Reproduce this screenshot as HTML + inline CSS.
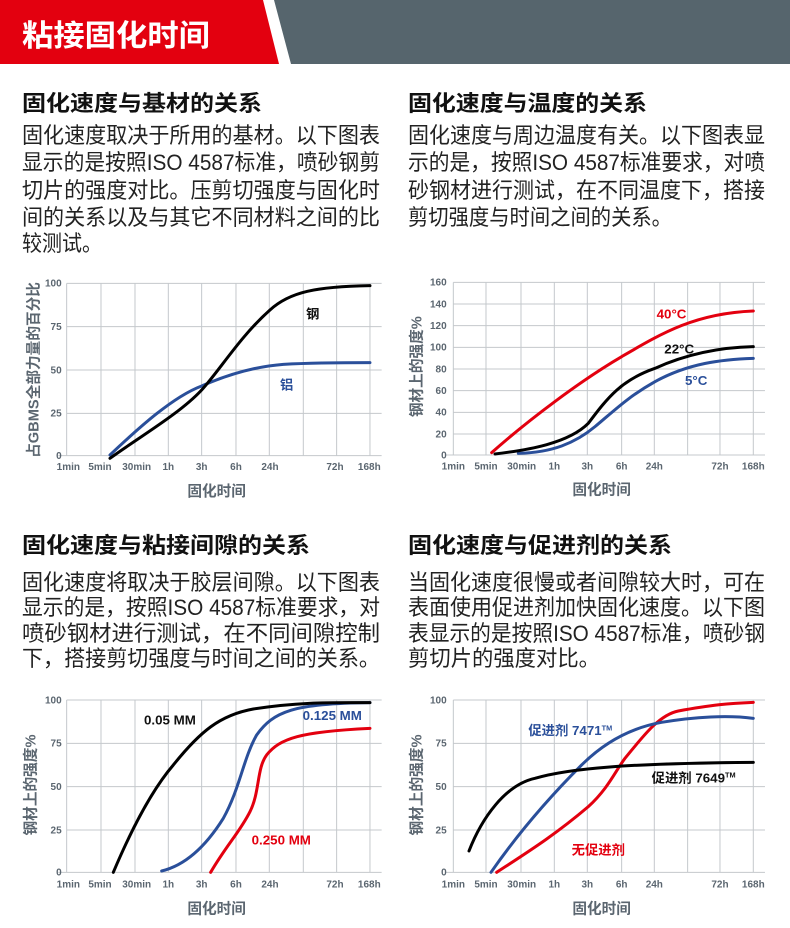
<!DOCTYPE html>
<html><head><meta charset="utf-8"><style>
html,body{margin:0;padding:0;background:#fff}
svg{display:block}
.h{font-family:"Liberation Sans","Noto Sans CJK SC",sans-serif;font-weight:bold;font-size:22px;fill:#111}
.p{font-family:"Liberation Sans","Noto Sans CJK SC",sans-serif;font-size:22px;fill:#222}
.g line{stroke:#c4c8cc;stroke-width:3}
.tk{font-family:"Liberation Sans","Noto Sans CJK SC",sans-serif;font-weight:bold;font-size:30px;fill:#5b6670}
.yl{text-anchor:end}
.xl{text-anchor:middle}
.at{font-family:"Liberation Sans","Noto Sans CJK SC",sans-serif;font-weight:bold;font-size:44px;fill:#5b6670;text-anchor:middle}
.c{fill:none;stroke-width:9;stroke-linecap:round}
.lb{font-family:"Liberation Sans","Noto Sans CJK SC",sans-serif;font-weight:bold;font-size:40px}
</style></head><body>
<svg width="790" height="928" viewBox="0 0 790 928" xmlns="http://www.w3.org/2000/svg">
<polygon points="0,0 263,0 279,64 0,64" fill="#e3000f"/>
<polygon points="274,0 790,0 790,64 291,64" fill="#56656d"/>
<text x="22" y="46" font-family="Liberation Sans,Noto Sans CJK SC,sans-serif" font-weight="bold" font-size="30" fill="#fff" textLength="188" lengthAdjust="spacingAndGlyphs">粘接固化时间</text>

<text class="h" x="22" y="111" textLength="240" lengthAdjust="spacingAndGlyphs">固化速度与基材的关系</text>
<text class="p" x="22" y="143" textLength="358" lengthAdjust="spacingAndGlyphs">固化速度取决于所用的基材。以下图表</text>
<text class="p" x="22" y="170" textLength="358" lengthAdjust="spacingAndGlyphs">显示的是按照ISO 4587标准，喷砂钢剪</text>
<text class="p" x="22" y="198" textLength="358" lengthAdjust="spacingAndGlyphs">切片的强度对比。压剪切强度与固化时</text>
<text class="p" x="22" y="225" textLength="358" lengthAdjust="spacingAndGlyphs">间的关系以及与其它不同材料之间的比</text>
<text class="p" x="22" y="251" textLength="80" lengthAdjust="spacingAndGlyphs">较测试。</text>

<text class="h" x="408" y="111" textLength="239" lengthAdjust="spacingAndGlyphs">固化速度与温度的关系</text>
<text class="p" x="408" y="143" textLength="357" lengthAdjust="spacingAndGlyphs">固化速度与周边温度有关。以下图表显</text>
<text class="p" x="408" y="170" textLength="357" lengthAdjust="spacingAndGlyphs">示的是，按照ISO 4587标准要求，对喷</text>
<text class="p" x="408" y="198" textLength="357" lengthAdjust="spacingAndGlyphs">砂钢材进行测试，在不同温度下，搭接</text>
<text class="p" x="408" y="225" textLength="264" lengthAdjust="spacingAndGlyphs">剪切强度与时间之间的关系。</text>

<text class="h" x="22" y="553" textLength="288" lengthAdjust="spacingAndGlyphs">固化速度与粘接间隙的关系</text>
<text class="p" x="22" y="590" textLength="358" lengthAdjust="spacingAndGlyphs">固化速度将取决于胶层间隙。以下图表</text>
<text class="p" x="22" y="615" textLength="358" lengthAdjust="spacingAndGlyphs">显示的是，按照ISO 4587标准要求，对</text>
<text class="p" x="22" y="641" textLength="358" lengthAdjust="spacingAndGlyphs">喷砂钢材进行测试，在不同间隙控制</text>
<text class="p" x="22" y="666" textLength="358" lengthAdjust="spacingAndGlyphs">下，搭接剪切强度与时间之间的关系。</text>

<text class="h" x="408" y="553" textLength="264" lengthAdjust="spacingAndGlyphs">固化速度与促进剂的关系</text>
<text class="p" x="408" y="590" textLength="357" lengthAdjust="spacingAndGlyphs">当固化速度很慢或者间隙较大时，可在</text>
<text class="p" x="408" y="615" textLength="357" lengthAdjust="spacingAndGlyphs">表面使用促进剂加快固化速度。以下图</text>
<text class="p" x="408" y="641" textLength="357" lengthAdjust="spacingAndGlyphs">表显示的是按照ISO 4587标准，喷砂钢</text>
<text class="p" x="408" y="666" textLength="192" lengthAdjust="spacingAndGlyphs">剪切片的强度对比。</text>

<!-- Chart 1 -->
<g transform="translate(0,270) scale(0.3333)">
<g class="g">
<line x1="200" y1="40" x2="200" y2="557"/><line x1="303" y1="40" x2="303" y2="557"/><line x1="405" y1="40" x2="405" y2="557"/><line x1="505" y1="40" x2="505" y2="557"/><line x1="605" y1="40" x2="605" y2="557"/><line x1="708" y1="40" x2="708" y2="557"/><line x1="808" y1="40" x2="808" y2="557"/><line x1="910" y1="40" x2="910" y2="557"/><line x1="1010" y1="40" x2="1010" y2="557"/><line x1="1110" y1="40" x2="1110" y2="557"/>
<line x1="200" y1="40" x2="1145" y2="40"/><line x1="200" y1="170" x2="1145" y2="170"/><line x1="200" y1="300" x2="1145" y2="300"/><line x1="200" y1="430" x2="1145" y2="430"/><line x1="175" y1="557" x2="1145" y2="557"/>
</g>
<text class="tk yl" x="185" y="50">100</text><text class="tk yl" x="185" y="180">75</text><text class="tk yl" x="185" y="310">50</text><text class="tk yl" x="185" y="440">25</text><text class="tk yl" x="185" y="567">0</text>
<text class="tk xl" x="205" y="600">1min</text><text class="tk xl" x="300" y="600">5min</text><text class="tk xl" x="410" y="600">30min</text><text class="tk xl" x="505" y="600">1h</text><text class="tk xl" x="605" y="600">3h</text><text class="tk xl" x="708" y="600">6h</text><text class="tk xl" x="810" y="600">24h</text><text class="tk xl" x="1005" y="600">72h</text><text class="tk xl" x="1108" y="600">168h</text>
<text class="at" x="650" y="678">固化时间</text>
<text class="at" transform="translate(115,300) rotate(-90)" font-size="40">占GBMS全部力量的百分比</text>
<path class="c" stroke="#2a4f9a" d="M330,555 C420,470 520,380 605,348 C680,315 760,290 850,283 C950,278 1050,278 1110,278"/>
<path class="c" stroke="#000" d="M330,565 C420,500 540,430 605,360 C660,300 720,200 810,120 C870,65 950,50 1110,47"/>
<text class="lb" x="918" y="145" fill="#111">钢</text>
<text class="lb" x="840" y="358" fill="#2a4f9a">铝</text>
</g>

<!-- Chart 2 -->
<g transform="translate(395,270) scale(0.3333)">
<g class="g">
<line x1="175" y1="37" x2="175" y2="555"/><line x1="273" y1="37" x2="273" y2="555"/><line x1="378" y1="37" x2="378" y2="555"/><line x1="478" y1="37" x2="478" y2="555"/><line x1="577" y1="37" x2="577" y2="555"/><line x1="680" y1="37" x2="680" y2="555"/><line x1="778" y1="37" x2="778" y2="555"/><line x1="878" y1="37" x2="878" y2="555"/><line x1="975" y1="37" x2="975" y2="555"/><line x1="1075" y1="37" x2="1075" y2="555"/>
<line x1="175" y1="37" x2="1110" y2="37"/><line x1="175" y1="102" x2="1110" y2="102"/><line x1="175" y1="167" x2="1110" y2="167"/><line x1="175" y1="232" x2="1110" y2="232"/><line x1="175" y1="297" x2="1110" y2="297"/><line x1="175" y1="362" x2="1110" y2="362"/><line x1="175" y1="427" x2="1110" y2="427"/><line x1="175" y1="492" x2="1110" y2="492"/><line x1="150" y1="555" x2="1110" y2="555"/>
</g>
<text class="tk yl" x="155" y="47">160</text><text class="tk yl" x="155" y="112">140</text><text class="tk yl" x="155" y="177">120</text><text class="tk yl" x="155" y="242">100</text><text class="tk yl" x="155" y="307">80</text><text class="tk yl" x="155" y="372">60</text><text class="tk yl" x="155" y="437">40</text><text class="tk yl" x="155" y="502">20</text><text class="tk yl" x="155" y="565">0</text>
<text class="tk xl" x="175" y="598">1min</text><text class="tk xl" x="273" y="598">5min</text><text class="tk xl" x="380" y="598">30min</text><text class="tk xl" x="478" y="598">1h</text><text class="tk xl" x="577" y="598">3h</text><text class="tk xl" x="680" y="598">6h</text><text class="tk xl" x="778" y="598">24h</text><text class="tk xl" x="975" y="598">72h</text><text class="tk xl" x="1075" y="598">168h</text>
<text class="at" x="620" y="673">固化时间</text>
<text class="at" transform="translate(80,290) rotate(-90)" font-size="40">钢材上的强度%</text>
<path class="c" stroke="#e3000f" d="M290,548 C400,450 560,330 680,260 C800,190 900,130 1075,123"/>
<path class="c" stroke="#2a4f9a" d="M370,550 C470,548 540,520 600,470 C660,420 700,380 780,335 C880,280 980,268 1075,265"/>
<path class="c" stroke="#000" d="M300,552 C400,540 520,520 580,460 C640,380 680,330 780,295 C880,250 980,232 1075,230"/>
<text class="lb" x="785" y="145" fill="#e3000f">40°C</text>
<text class="lb" x="808" y="250" fill="#111">22°C</text>
<text class="lb" x="870" y="345" fill="#2a4f9a">5°C</text>
</g>

<!-- Chart 3 -->
<g transform="translate(0,685) scale(0.3333)">
<g class="g">
<line x1="200" y1="45" x2="200" y2="562"/><line x1="303" y1="45" x2="303" y2="562"/><line x1="405" y1="45" x2="405" y2="562"/><line x1="505" y1="45" x2="505" y2="562"/><line x1="605" y1="45" x2="605" y2="562"/><line x1="708" y1="45" x2="708" y2="562"/><line x1="808" y1="45" x2="808" y2="562"/><line x1="910" y1="45" x2="910" y2="562"/><line x1="1010" y1="45" x2="1010" y2="562"/><line x1="1110" y1="45" x2="1110" y2="562"/>
<line x1="200" y1="45" x2="1145" y2="45"/><line x1="200" y1="175" x2="1145" y2="175"/><line x1="200" y1="305" x2="1145" y2="305"/><line x1="200" y1="435" x2="1145" y2="435"/><line x1="175" y1="562" x2="1145" y2="562"/>
</g>
<text class="tk yl" x="185" y="55">100</text><text class="tk yl" x="185" y="185">75</text><text class="tk yl" x="185" y="315">50</text><text class="tk yl" x="185" y="445">25</text><text class="tk yl" x="185" y="572">0</text>
<text class="tk xl" x="205" y="607">1min</text><text class="tk xl" x="300" y="607">5min</text><text class="tk xl" x="410" y="607">30min</text><text class="tk xl" x="505" y="607">1h</text><text class="tk xl" x="605" y="607">3h</text><text class="tk xl" x="708" y="607">6h</text><text class="tk xl" x="810" y="607">24h</text><text class="tk xl" x="1005" y="607">72h</text><text class="tk xl" x="1108" y="607">168h</text>
<text class="at" x="650" y="685">固化时间</text>
<text class="at" transform="translate(107,300) rotate(-90)" font-size="40">钢材上的强度%</text>
<path class="c" stroke="#e3000f" d="M632,562 C680,480 720,440 750,380 C780,320 770,250 800,210 C840,160 900,140 1110,130"/>
<path class="c" stroke="#2a4f9a" d="M485,558 C560,540 620,480 670,400 C720,310 730,220 770,150 C820,80 880,55 1110,53"/>
<path class="c" stroke="#000" d="M340,562 C400,420 460,310 520,240 C600,140 660,90 760,72 C900,50 1000,53 1110,53"/>
<text class="lb" x="432" y="118" fill="#111" font-size="36">0.05 MM</text>
<text class="lb" x="908" y="105" fill="#2a4f9a" font-size="36">0.125 MM</text>
<text class="lb" x="755" y="478" fill="#e3000f" font-size="36">0.250 MM</text>
</g>

<!-- Chart 4 -->
<g transform="translate(395,685) scale(0.3333)">
<g class="g">
<line x1="175" y1="45" x2="175" y2="562"/><line x1="273" y1="45" x2="273" y2="562"/><line x1="378" y1="45" x2="378" y2="562"/><line x1="478" y1="45" x2="478" y2="562"/><line x1="577" y1="45" x2="577" y2="562"/><line x1="680" y1="45" x2="680" y2="562"/><line x1="778" y1="45" x2="778" y2="562"/><line x1="878" y1="45" x2="878" y2="562"/><line x1="975" y1="45" x2="975" y2="562"/><line x1="1075" y1="45" x2="1075" y2="562"/>
<line x1="175" y1="45" x2="1110" y2="45"/><line x1="175" y1="175" x2="1110" y2="175"/><line x1="175" y1="305" x2="1110" y2="305"/><line x1="175" y1="435" x2="1110" y2="435"/><line x1="150" y1="562" x2="1110" y2="562"/>
</g>
<text class="tk yl" x="155" y="55">100</text><text class="tk yl" x="155" y="185">75</text><text class="tk yl" x="155" y="315">50</text><text class="tk yl" x="155" y="445">25</text><text class="tk yl" x="155" y="572">0</text>
<text class="tk xl" x="175" y="607">1min</text><text class="tk xl" x="273" y="607">5min</text><text class="tk xl" x="380" y="607">30min</text><text class="tk xl" x="478" y="607">1h</text><text class="tk xl" x="577" y="607">3h</text><text class="tk xl" x="680" y="607">6h</text><text class="tk xl" x="778" y="607">24h</text><text class="tk xl" x="975" y="607">72h</text><text class="tk xl" x="1075" y="607">168h</text>
<text class="at" x="620" y="685">固化时间</text>
<text class="at" transform="translate(80,300) rotate(-90)" font-size="40">钢材上的强度%</text>
<path class="c" stroke="#e3000f" d="M305,562 C400,500 480,450 580,365 C640,310 660,260 690,220 C740,160 790,90 850,78 C950,60 1000,55 1075,52"/>
<path class="c" stroke="#2a4f9a" d="M288,562 C380,430 480,320 560,240 C620,180 700,130 800,112 C900,95 1000,90 1075,100"/>
<path class="c" stroke="#000" d="M222,498 C260,400 330,300 420,280 C520,250 700,235 1075,232"/>
<text class="lb" x="400" y="150" fill="#2a4f9a" font-size="38">促进剂 7471<tspan font-size="22" dy="-14">TM</tspan></text>
<text class="lb" x="770" y="292" fill="#111" font-size="38">促进剂 7649<tspan font-size="22" dy="-14">TM</tspan></text>
<text class="lb" x="530" y="508" fill="#e3000f" font-size="40">无促进剂</text>
</g>
</svg>
</body></html>
